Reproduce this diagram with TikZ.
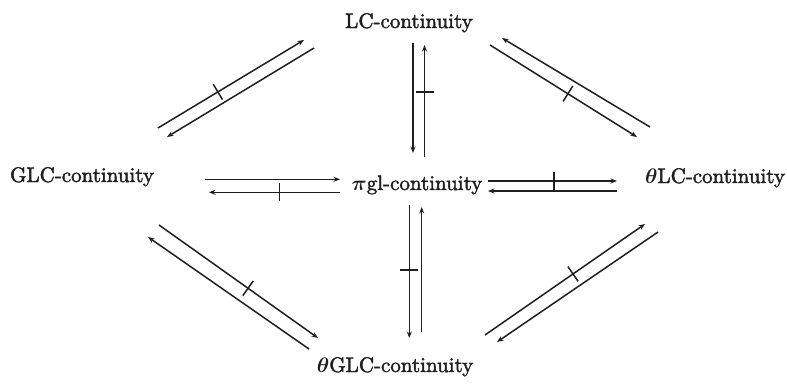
\RequirePackage{fix-cm}
\documentclass[tikz,border=0pt]{standalone}
\usepackage{fontspec}
\newfontfamily\lblfont{lmroman10-regular}[Extension=.otf, FakeBold=2]
\usetikzlibrary{arrows.meta,decorations.markings}
\definecolor{ink}{gray}{0.12}
\begin{document}
\begin{tikzpicture}[x=1pt,y=-1pt,
  imp/.style={draw=ink, line width=1.5pt, -{Stealth[length=6.5pt,width=5pt]}},
  crossed/.style={decoration={markings,
      mark=at position #1 with {\draw[ink, line width=1.5pt, -] (0,-9pt) -- (0,9pt);}},
    postaction={decorate}},
  lbl/.style={anchor=base, inner sep=0pt, text=ink,
    font=\fontsize{21}{25}\selectfont\lblfont\boldmath}]
\path[use as bounding box] (0,0) rectangle (787,383);

% the five notions of continuity
\node[lbl] (lc)   at (409,28)  {LC-continuity};
\node[lbl] (glc)  at (82,182)  {GLC-continuity};
\node[lbl] (pgl)  at (417,190) {$\pi$gl-continuity};
\node[lbl] (tlc)  at (715,183) {$\theta$LC-continuity};
\node[lbl] (tglc) at (395,372) {$\theta$GLC-continuity};

% end points of the implication arrows
\coordinate (glcUp)  at (158,128);   \coordinate (lcUpL)  at (304,40);
\coordinate (lcDnL)  at (314,48);    \coordinate (glcDn)  at (167,137);
\coordinate (tlcUp)  at (650,127);   \coordinate (lcUpR)  at (502,38);
\coordinate (lcDnR)  at (490,45);    \coordinate (tlcDn)  at (637,137);
\coordinate (glcLo)  at (159,225);   \coordinate (tglcL)  at (318,338);
\coordinate (tglcL2) at (309,349);   \coordinate (glcLo2) at (148,237);
\coordinate (tglcR)  at (485,335);   \coordinate (tlcLo)  at (645,224);
\coordinate (tlcLo2) at (658,232);   \coordinate (tglcR2) at (497,342);
\coordinate (lcV1)   at (413,43);    \coordinate (pglV1)  at (413,153);
\coordinate (pglV2)  at (424.5,157); \coordinate (lcV2)   at (424.5,45);
\coordinate (pglV3)  at (409.3,205); \coordinate (tglcV3) at (409.3,338);
\coordinate (tglcV4) at (421.7,332); \coordinate (pglV4)  at (421.7,207);
\coordinate (glcH1)  at (205,179.3); \coordinate (pglH1)  at (340,179.3);
\coordinate (pglH2)  at (340,192.3); \coordinate (glcH2)  at (209,192.3);
\coordinate (pglH3)  at (488,181);   \coordinate (tlcH3)  at (617,181);
\coordinate (tlcH4)  at (617,191);   \coordinate (pglH4)  at (488,191);

% GLC -- LC
\draw[imp, crossed=0.41] (glcUp) -- (lcUpL);
\draw[imp] (lcDnL) -- (glcDn);
% LC -- theta LC
\draw[imp] (tlcUp) -- (lcUpR);
\draw[imp, crossed=0.53] (lcDnR) -- (tlcDn);
% GLC -- theta GLC
\draw[imp, crossed=0.56] (glcLo) -- (tglcL);
\draw[imp] (tglcL2) -- (glcLo2);
% theta GLC -- theta LC
\draw[imp, crossed=0.55] (tglcR) -- (tlcLo);
\draw[imp] (tlcLo2) -- (tglcR2);
% LC -- pi gl
\draw[imp] (lcV1) -- (pglV1);
\draw[imp, crossed=0.58] (pglV2) -- (lcV2);
% pi gl -- theta GLC
\draw[imp, crossed=0.49] (pglV3) -- (tglcV3);
\draw[imp] (tglcV4) -- (pglV4);
% GLC -- pi gl
\draw[imp] (glcH1) -- (pglH1);
\draw[imp, crossed=0.46] (pglH2) -- (glcH2);
% pi gl -- theta LC
\draw[imp, crossed=0.51] (pglH3) -- (tlcH3);
\draw[imp] (tlcH4) -- (pglH4);
\end{tikzpicture}
\end{document}
